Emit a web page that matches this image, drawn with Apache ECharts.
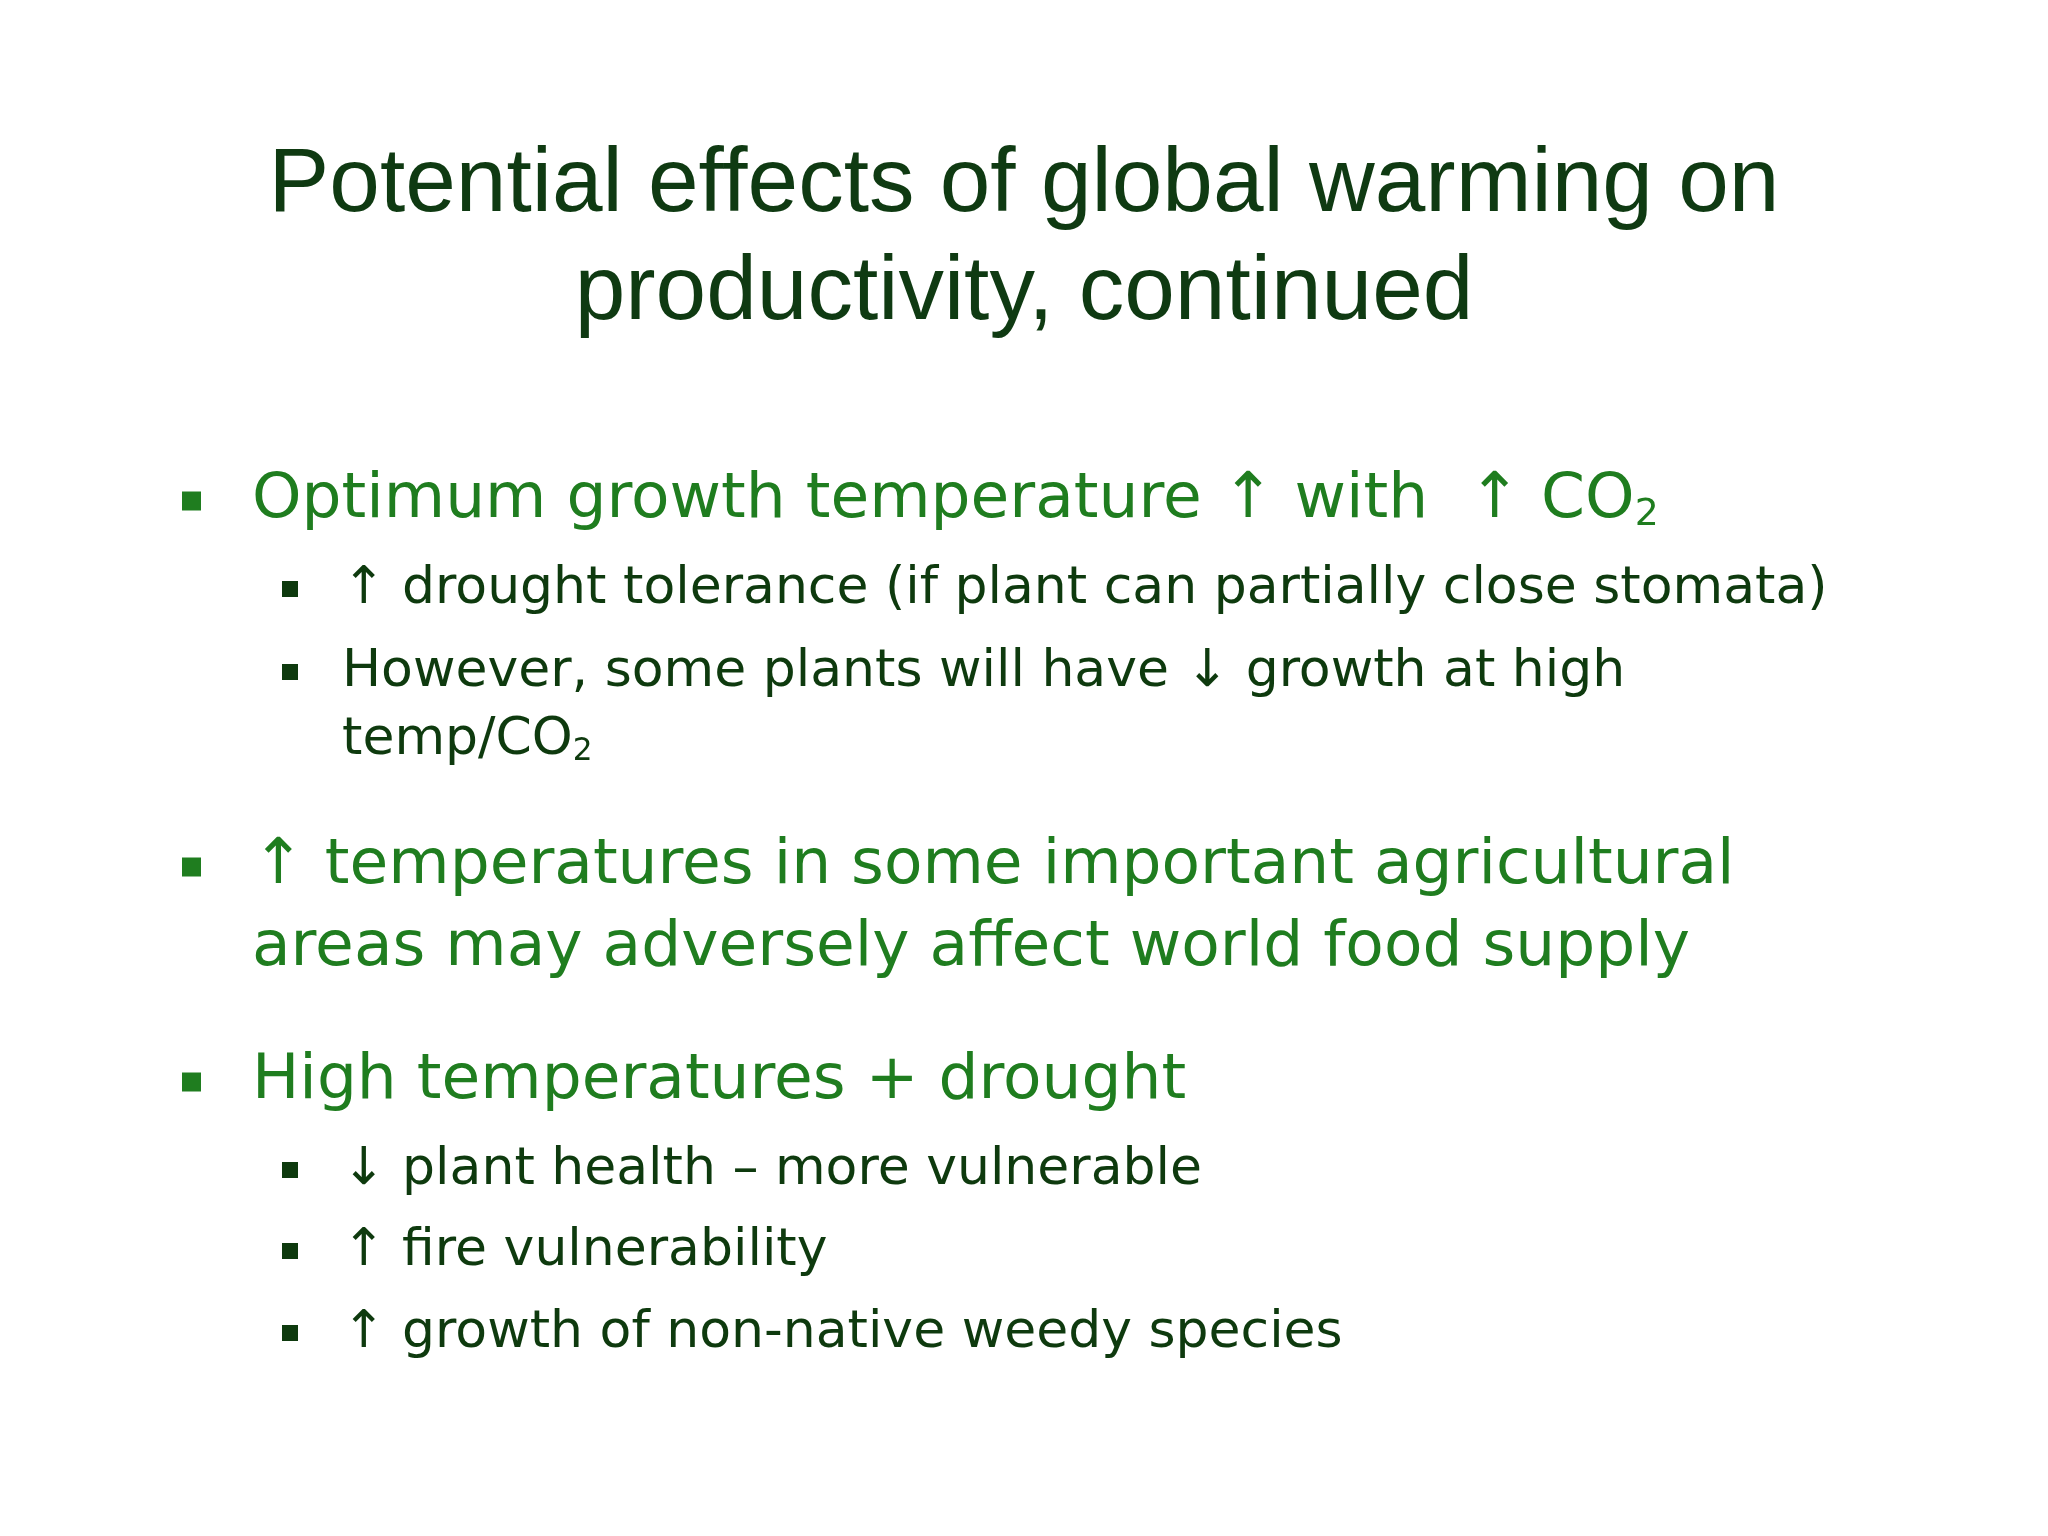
<!DOCTYPE html>
<html>
<head>
<meta charset="utf-8">
<script src="https://cdn.jsdelivr.net/npm/echarts@6/dist/echarts.min.js"></script>
<style>
  html, body { margin: 0; padding: 0; background: #fff; }
  #main { width: 2048px; height: 1536px; }
</style>
</head>
<body>
<div id="main"></div>
<script>
// slide text
const titleLines = ['Potential effects of global warming on', 'productivity, continued']
// [level, text, y, marker] – {s|2} marks a subscript
const bulletLines = [
  [1, 'Optimum growth temperature \u2191 with  \u2191 CO{s|2}', 501, true],
  [2, '\u2191 drought tolerance (if plant can partially close stomata)', 589, true],
  [2, 'However, some plants will have \u2193 growth at high', 672, true],
  [2, 'temp/CO{s|2}', 740, false],
  [1, '\u2191 temperatures in some important agricultural', 867, true],
  [1, 'areas may adversely affect world food supply', 949, false],
  [1, 'High temperatures + drought', 1082, true],
  [2, '\u2193 plant health \u2013 more vulnerable', 1170, true],
  [2, '\u2191 fire vulnerability', 1251, true],
  [2, '\u2191 growth of non-native weedy species', 1333, true]
]

const myChart = echarts.init(document.querySelector('#main'))
const bodyFont = '"Comic Sans MS", "DejaVu Sans", sans-serif'

const elements = []
titleLines.forEach((t, i) => {
  elements.push({
    type: 'text', left: 'center', top: 140 + i * 108,
    style: { text: t, font: '91px "Liberation Sans", Arial, sans-serif', fill: '#0f3a12' }
  })
})

bulletLines.forEach(([level, text, y, marker]) => {
  const size = level === 1 ? 63 : 52
  const color = level === 1 ? '#1f7d1f' : '#0e3a0e'
  const textX = level === 1 ? 252 : 342
  const markX = level === 1 ? 182 : 282
  const ms = level === 1 ? 19 : 16
  if (marker) {
    elements.push({
      type: 'rect',
      shape: { x: markX, y: y - ms / 2, width: ms, height: ms },
      style: { fill: color }
    })
  }
  elements.push({
    type: 'text', x: textX, y: y,
    style: {
      text: text, font: size + 'px ' + bodyFont, fill: color,
      verticalAlign: 'middle',
      rich: { s: { fontSize: size * 0.6, fontFamily: bodyFont, fill: color, padding: [size * 0.45, 0, 0, 0] } }
    }
  })
})

myChart.setOption({
  backgroundColor: '#ffffff',
  graphic: { elements: elements }
})
</script>
</body>
</html>
